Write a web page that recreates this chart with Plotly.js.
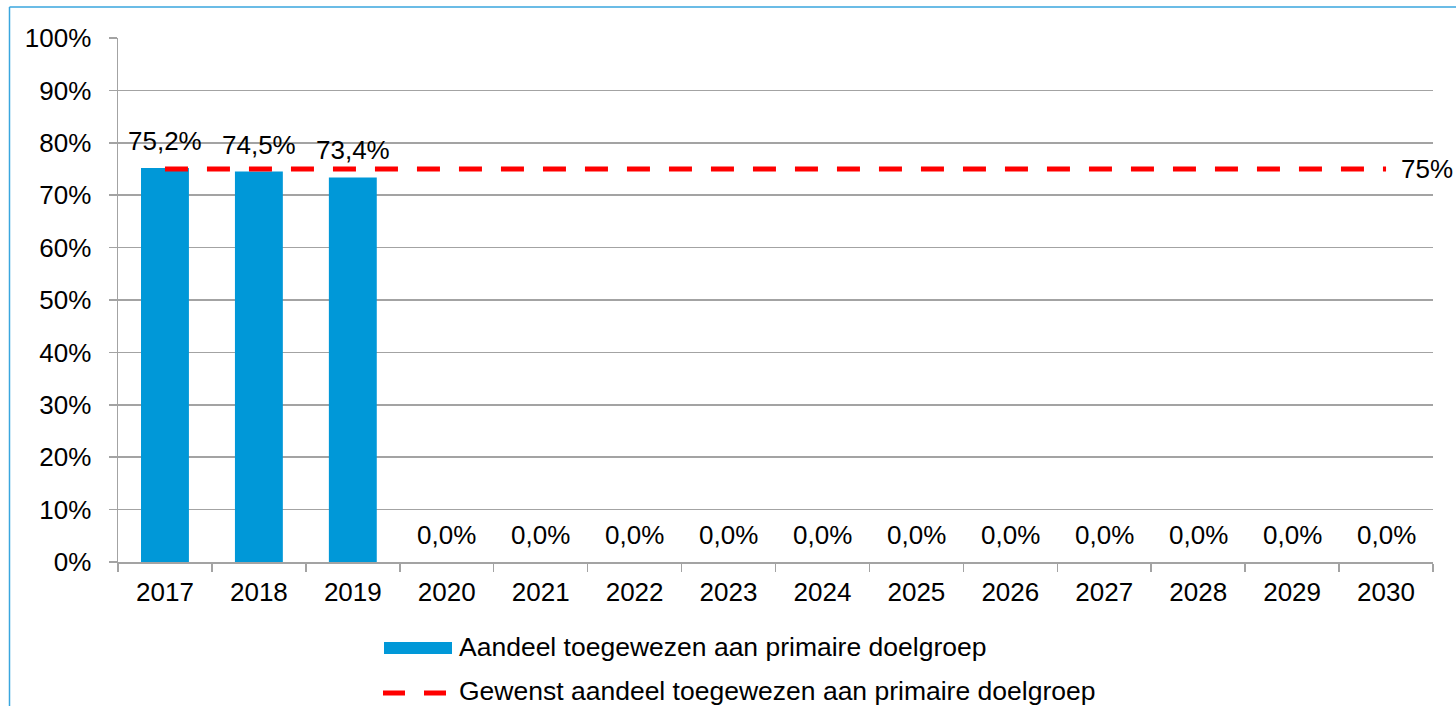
<!DOCTYPE html>
<html>
<head>
<meta charset="utf-8">
<script src="https://cdn.plot.ly/plotly-3.0.1.min.js"></script>
<style>html,body{margin:0;padding:0;background:#fff;}#chart{width:1456px;height:706px;}</style>
</head>
<body>
<div id="chart"></div>
<script>
const years = ['2017','2018','2019','2020','2021','2022','2023','2024','2025','2026','2027','2028','2029','2030'];
const share = [0.752, 0.745, 0.734, 0, 0, 0, 0, 0, 0, 0, 0, 0, 0, 0];
const target = [0.75, 0.75, 0.75, 0.75, 0.75, 0.75, 0.75, 0.75, 0.75, 0.75, 0.75, 0.75, 0.75, 0.75];
const yTicks = [0, 0.1, 0.2, 0.3, 0.4, 0.5, 0.6, 0.7, 0.8, 0.9, 1.0];
const yTickLabels = ['0%','10%','20%','30%','40%','50%','60%','70%','80%','90%','100%'];
const seriesNames = ['Aandeel toegewezen aan primaire doelgroep', 'Gewenst aandeel toegewezen aan primaire doelgroep'];

const FONT = 'Liberation Sans, Arial, sans-serif';
const FS = 26;
const FS_LEG = 26.5;
const BLUE = '#0098d8';
const RED = '#ff0000';
const GRID = '#a3a3a3';

// plot area in pixels
const L = 118, R = 1433, T = 38, B = 562;
const px = p => (p - L) / (R - L);
const py = p => (B - p) / (B - T);

const fmt = v => (v * 100).toFixed(1).replace('.', ',') + '%';

const traces = [
  {
    type: 'bar', x: years, y: share, name: seriesNames[0],
    marker: {color: BLUE}, showlegend: false, hoverinfo: 'skip'
  },
  {
    type: 'scatter', mode: 'lines', x: years, y: target, name: seriesNames[1],
    line: {color: RED, width: 5, dash: '23px,19px'}, showlegend: false, hoverinfo: 'skip'
  }
];

const annotations = years.map((yr, i) => ({
  x: i, y: share[i], xref: 'x', yref: 'y', text: fmt(share[i]),
  showarrow: false, yanchor: 'middle', xanchor: 'center', yshift: 27,
  font: {family: FONT, size: FS, color: '#000'}
}));
annotations.push({
  x: years.length - 1, y: target[target.length - 1], xref: 'x', yref: 'y',
  text: Math.round(target[target.length - 1] * 100) + '%', showarrow: false,
  xanchor: 'left', yanchor: 'middle', xshift: 13,
  font: {family: FONT, size: FS, color: '#000'}
});
// custom legend texts
annotations.push({
  x: px(458), y: py(647), xref: 'paper', yref: 'paper', text: seriesNames[0],
  showarrow: false, xanchor: 'left', yanchor: 'middle', borderpad: 0,
  font: {family: FONT, size: FS_LEG, color: '#000'}
});
annotations.push({
  x: px(458), y: py(691), xref: 'paper', yref: 'paper', text: seriesNames[1],
  showarrow: false, xanchor: 'left', yanchor: 'middle', borderpad: 0,
  font: {family: FONT, size: FS_LEG, color: '#000'}
});

const shapes = [
  {type: 'line', xref: 'paper', yref: 'paper', x0: px(9.5), x1: px(9.5), y0: py(7), y1: py(720),
   line: {color: '#3aa6de', width: 1.5}},
  {type: 'line', xref: 'paper', yref: 'paper', x0: px(9.5), x1: px(1470), y0: py(7), y1: py(7),
   line: {color: '#3aa6de', width: 1.5}},
  {type: 'rect', xref: 'paper', yref: 'paper', x0: px(384), x1: px(452), y0: py(654), y1: py(642),
   fillcolor: BLUE, line: {width: 0}},
  {type: 'line', xref: 'paper', yref: 'paper', x0: px(383), x1: px(447), y0: py(693), y1: py(693),
   line: {color: RED, width: 5, dash: '22px,19px'}}
];

const layout = {
  width: 1456, height: 706,
  margin: {l: L, r: 1456 - R, t: T, b: 706 - B, pad: 0},
  paper_bgcolor: '#fff', plot_bgcolor: '#fff',
  font: {family: FONT, size: FS, color: '#000'},
  showlegend: false,
  bargap: 0.49,
  xaxis: {
    type: 'category', categoryarray: years, categoryorder: 'array',
    range: [-0.5, years.length - 0.5], autorange: false,
    tickson: 'boundaries', ticks: 'outside', ticklen: 8, tickangle: 0,
    ticklabelstandoff: 6,
    tickcolor: GRID, tickwidth: 1.5, showline: true, linecolor: GRID, linewidth: 1.5,
    showgrid: false, zeroline: false, fixedrange: true,
    tickfont: {family: FONT, size: FS, color: '#000'}
  },
  yaxis: {
    range: [0, 1], autorange: false, tickvals: yTicks, ticktext: yTickLabels, ticks: 'outside', ticklen: 8,
    tickcolor: GRID, tickwidth: 1.5, showline: true, linecolor: GRID, linewidth: 1.5,
    showgrid: true, gridcolor: GRID, gridwidth: 1.5, zeroline: false, fixedrange: true,
    ticklabelstandoff: 12,
    tickfont: {family: FONT, size: FS, color: '#000'}
  },
  annotations: annotations,
  shapes: shapes
};

Plotly.newPlot('chart', traces, layout, {staticPlot: true, displayModeBar: false});
</script>
</body>
</html>
